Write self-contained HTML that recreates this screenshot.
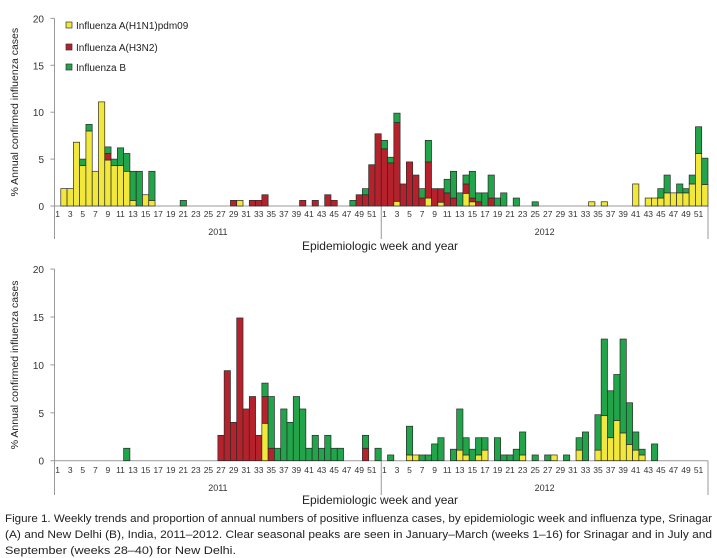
<!DOCTYPE html>
<html><head><meta charset="utf-8"><style>
html,body{margin:0;padding:0;background:#fff;}
svg{display:block;font-family:"Liberation Sans",sans-serif;}
</style></head><body>
<svg id="fig" width="717" height="558" viewBox="0 0 717 558" xmlns="http://www.w3.org/2000/svg">
<g id="panelA"></g>
<g id="panelB"></g>
<g>
 <g><rect x="66" y="22" width="6" height="6" fill="#f1e83b" stroke="#333" stroke-width="0.7"/><text x="76" y="29" font-size="10" fill="#222">Influenza A(H1N1)pdm09</text></g>
 <g><rect x="66" y="44" width="6" height="6" fill="#b5222b" stroke="#333" stroke-width="0.7"/><text x="76" y="51" font-size="10" fill="#222">Influenza A(H3N2)</text></g>
 <g><rect x="66" y="64" width="6" height="6" fill="#22a44a" stroke="#333" stroke-width="0.7"/><text x="76" y="71" font-size="10" fill="#222">Influenza B</text></g>
</g>
<g font-size="11" fill="#222">
 <text x="5" y="522" textLength="707" lengthAdjust="spacingAndGlyphs">Figure 1. Weekly trends and proportion of annual numbers of positive influenza cases, by epidemiologic week and influenza type, Srinagar</text>
 <text x="5" y="538" textLength="707" lengthAdjust="spacingAndGlyphs">(A) and New Delhi (B), India, 2011–2012. Clear seasonal peaks are seen in January–March (weeks 1–16) for Srinagar and in July and</text>
 <text x="5" y="554" textLength="231" lengthAdjust="spacingAndGlyphs">September (weeks 28–40) for New Delhi.</text>
</g>
</svg>
<script>
// Panel A (Srinagar) – weeks 1..52 of 2011 then 1..52 of 2012
const aYellow = [
0,1.85,1.85,6.8,4.3,8.0,3.7,11.1,4.9,4.3,4.3,3.7,0.6,
0,1.2,0.6,0,0,0,0,0,0,0,0,0,0,
0,0,0,0.6,0,0,0,0,0,0,0,0,0,
0,0,0,0,0,0,0,0,0,0,0,0,0,
0,0,0.5,0,0,0,0,0.85,0,0.4,0,0,0,
1.35,0.45,0,0,0,0,0,0,0,0,0,0,0,
0,0,0,0,0,0,0,0.45,0,0.45,0,0,0,
0,2.35,0,0.85,0.85,0.85,1.4,1.4,1.4,1.4,2.35,5.6,2.3];
const aRed = [
0,0,0,0,0,0,0,0,0.7,0,0,0,0,
0,0,0,0,0,0,0,0,0,0,0,0,0,
0,0,0.6,0,0,0.6,0.6,1.2,0,0,0,0,0,
0.6,0,0.6,0,1.2,0.6,0,0,0,1.2,1.2,4.4,7.7,
6.1,4.6,8.4,2.35,4.7,3.3,0.85,3.85,1.85,1.45,1.4,0.85,0,
1.0,0.4,0.45,0,0.85,0,0,0,0,0,0,0,0,
0,0,0,0,0,0,0,0,0,0,0,0,0,
0,0,0,0,0,0,0,0,0,0,0,0,0];
const aGreen = [
0,0,0,0,0.7,0.7,0,0,0.7,0.7,1.9,1.9,3.1,
3.7,0,3.1,0,0,0,0,0.6,0,0,0,0,0,
0,0,0,0,0,0,0,0,0,0,0,0,0,
0,0,0,0,0,0,0,0,0.6,0,0.65,0,0,
0.9,0.6,1.0,0,0,0,1.0,2.3,0,0,1.45,2.85,1.4,
0.95,2.85,0.95,1.4,2.45,0.85,1.4,0,0.85,0,0,0.45,0,
0,0,0,0,0,0,0,0,0,0,0,0,0,
0,0,0,0,0,1.0,1.9,0,0.95,0.45,0.95,2.85,2.8];
// Panel B (New Delhi)
const bYellow = [
0,0,0,0,0,0,0,0,0,0,0,0,0,
0,0,0,0,0,0,0,0,0,0,0,0,0,
0,0,0,0,0,0,0,3.9,0,0,0,0,0,
0,0,0,0,0,0,0,0,0,0,0,0,0,
0,0,0,0,0.6,0.6,0,0,0,0,0,0,1.1,
0.6,0,0.6,1.1,0,0,0,0,0,0.6,0,0,0,
0,0.6,0,0,0,1.1,0,0,1.1,4.7,2.4,4.2,2.9,
1.7,1.1,0.6,0,0,0,0,0,0,0,0,0,0];
const bRed = [
0,0,0,0,0,0,0,0,0,0,0,0,0,
0,0,0,0,0,0,0,0,0,0,0,0,0,
2.65,9.4,4.0,14.9,5.4,6.7,2.65,2.8,1.3,0,0,0,0,
0,0,0,0,0,0,0,0,0,0,1.3,0,0,
0,0,0,0,0,0,0,0,0,0,0,0,0,
0,0,0,0,0,0,0,0,0,0,0,0,0,
0,0,0,0,0,0,0,0,0,0,0,0,0,
0,0,0,0,0,0,0,0,0,0,0,0,0];
const bGreen = [
0,0,0,0,0,0,0,0,0,0,0,1.3,0,
0,0,0,0,0,0,0,0,0,0,0,0,0,
0,0,0,0,0,0,0,1.4,5.4,1.3,5.4,4.0,6.7,
5.4,1.3,2.65,1.3,2.65,1.3,1.3,0,0,0,1.35,0,1.3,
0,0.6,0,0,3.0,0,0.6,0.6,1.75,2.4,0,1.2,4.3,
1.8,1.2,1.8,1.3,0,2.4,0.6,0.6,1.2,2.4,0,0.6,0,
0.6,0,0,0.6,0,1.3,3.0,0,3.7,8.0,4.9,4.8,9.8,
4.35,1.9,0.6,0,1.75,0,0,0,0,0,0,0,0];
const yTicks = [0,5,10,15,20];
const years = ["2011","2012"];

const NS="http://www.w3.org/2000/svg";
function mk(tag, attrs, parent){const e=document.createElementNS(NS,tag);for(const k in attrs)e.setAttribute(k,attrs[k]);parent.appendChild(e);return e;}
const X0=54.5, X1=708, W=(X1-X0)/104;
function xc(i){return X0+(i+0.5)*W;}

function drawPanel(g, zeroY, ppu, frameBottom, yearY, titleY, labelY, ys, rs, gs, tag){
  const y=v=>zeroY-v*ppu;
  // axes
  let ax=mk('line',{x1:X0,y1:y(20),x2:X0,y2:frameBottom,stroke:'#999','stroke-width':1},g);
  
  
  let xl=mk('line',{x1:X0,y1:zeroY,x2:X1,y2:zeroY,stroke:'#999','stroke-width':1},g);
  
  
  [X0+52*W,X1].forEach((xx,k)=>{
    const l=mk('line',{x1:xx,y1:zeroY,x2:xx,y2:frameBottom,stroke:'#999','stroke-width':1},g);
    
    
  });
  yTicks.forEach(v=>{
    const t=mk('line',{x1:X0-4,y1:y(v),x2:X0,y2:y(v),stroke:'#999','stroke-width':1},g);
    
    
    const tx=mk('text',{x:44,y:y(v)+4,'font-size':10,'text-anchor':'end',fill:'#333'},g);
    tx.textContent=v;
    
    
  });
  // week labels
  for(let i=0;i<104;i++){
    const wk=(i%52)+1;
    if(wk%2===1){
      const t=mk('text',{x:xc(i),y:labelY,'font-size':8.5,'text-anchor':'middle',fill:'#333'},g);
      t.textContent=wk;
      
      
    }
  }
  years.forEach((yr,k)=>{
    const t=mk('text',{x:X0+(k*52+26)*W,y:yearY,'font-size':9,'text-anchor':'middle',fill:'#333'},g);
    t.textContent=yr;
    
    
  });
  const tt=mk('text',{x:380,y:titleY,'font-size':12,'text-anchor':'middle',fill:'#222'},g);
  tt.textContent='Epidemiologic week and year';
  
  
  const cy=(y(20)+zeroY)/2;
  const yt=mk('text',{x:0,y:0,'font-size':10.5,'text-anchor':'middle',fill:'#222',transform:`translate(18,${cy}) rotate(-90)`},g);
  yt.textContent='% Annual confirmed influenza cases';
  
  
  // bars
  const series=[[ys,'#f1e83b','h1n1'],[rs,'#b5222b','h3n2'],[gs,'#22a44a','b']];
  for(let i=0;i<104;i++){
    let base=0;
    series.forEach(([arr,col,nm])=>{
      const v=arr[i];
      if(v>0){
        const r=mk('rect',{x:xc(i)-W/2,y:y(base+v),width:W,height:v*ppu,fill:col,stroke:'#2a2a2a','stroke-width':0.7},g);
        
        
        base+=v;
      }
    });
  }
}
drawPanel(document.getElementById('panelA'),206,9.38,239,235,250,217,aYellow,aRed,aGreen,'a');
drawPanel(document.getElementById('panelB'),460.7,9.58,495,491,504,473,bYellow,bRed,bGreen,'b');
</script>
</body></html>
